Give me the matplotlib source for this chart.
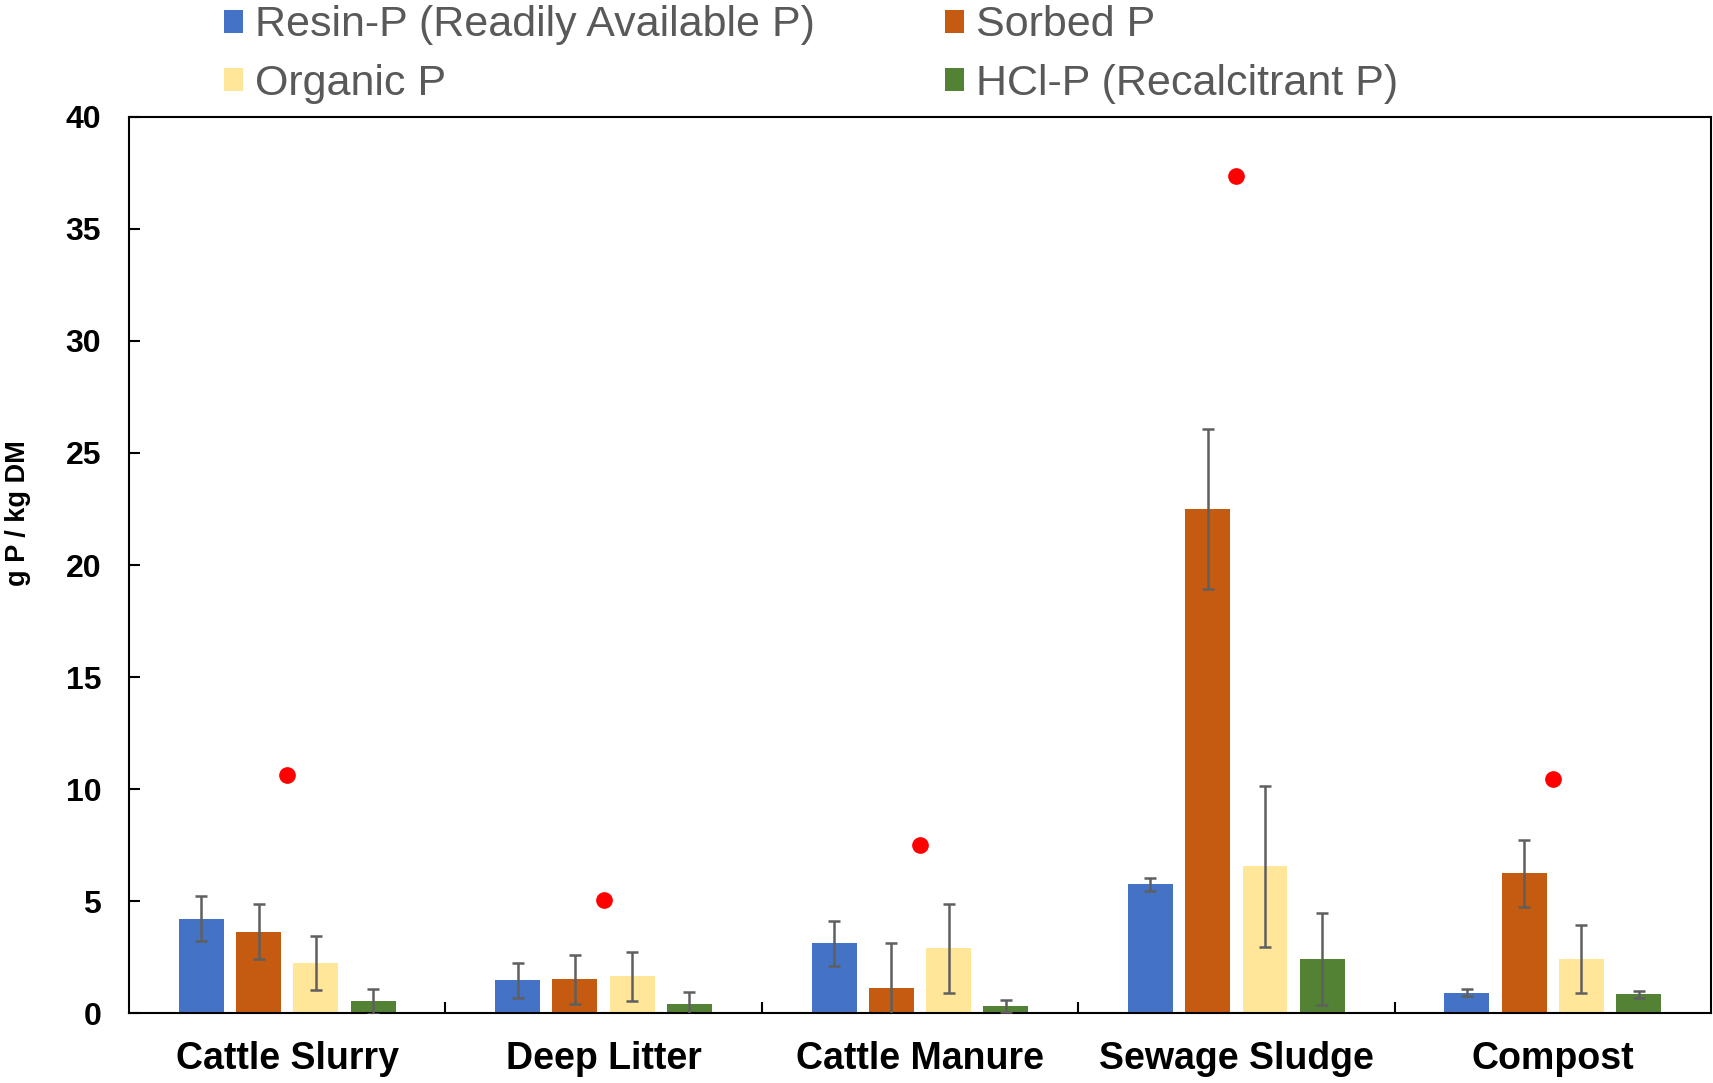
import matplotlib
matplotlib.use("Agg")
import matplotlib.pyplot as plt
import numpy as np
from matplotlib.patches import Patch

plt.rcParams['font.family'] = ['Liberation Sans', 'DejaVu Sans']

categories = ['Cattle Slurry', 'Deep Litter', 'Cattle Manure', 'Sewage Sludge', 'Compost']
series_names = ['Resin-P (Readily Available P)', 'Sorbed P', 'Organic P', 'HCl-P (Recalcitrant P)']
resin = [4.21, 1.46, 3.11, 5.75, 0.91]
resin_err = [1.00, 0.79, 1.01, 0.30, 0.16]
sorbed = [3.63, 1.50, 1.13, 22.52, 6.24]
sorbed_err = [1.22, 1.11, 2.00, 3.57, 1.50]
organic = [2.22, 1.64, 2.89, 6.55, 2.41]
organic_err = [1.21, 1.10, 1.98, 3.60, 1.51]
hcl = [0.52, 0.40, 0.31, 2.43, 0.83]
hcl_err = [0.55, 0.52, 0.25, 2.05, 0.17]
total_p = [10.63, 5.04, 7.52, 37.36, 10.46]
yticks = [0, 5, 10, 15, 20, 25, 30, 35, 40]

colors = ['#4472C4', '#C55A11', '#FFE699', '#548235']
values = [resin, sorbed, organic, hcl]
errors = [resin_err, sorbed_err, organic_err, hcl_err]

fig = plt.figure(figsize=(17.13, 10.83), dpi=100)
ax = fig.add_axes([0.0753, 0.0646, 0.9235, 0.8274])

x = np.arange(len(categories))
pitch = 0.181
width = 0.142
offsets = [-1.5, -0.5, 0.5, 1.5]
for vals, errs, c, off in zip(values, errors, colors, offsets):
    ax.bar(x + off * pitch, vals, width=width, color=c, zorder=2)
    ax.errorbar(x + off * pitch, vals, yerr=errs, fmt='none', ecolor='#5f5f5f',
                elinewidth=1.8, capsize=4.3, capthick=1.8, zorder=3)

ax.plot(x, total_p, 'o', color='#FF0000', markersize=11, zorder=4, linestyle='none')

ax.set_xlim(-0.5, len(categories) - 0.5)
ax.set_ylim(0, 40)
ax.set_yticks(yticks)
ax.set_yticklabels([str(t) for t in yticks], fontsize=23, fontweight='bold')
ax.set_xticks(x)
ax.set_xticklabels(categories, fontsize=27, fontweight='bold')
ax.tick_params(axis='x', which='major', length=0, pad=20)
ax.set_xticks(np.arange(0.5, len(categories) - 0.5, 1), minor=True)
ax.tick_params(axis='x', which='minor', direction='in', length=8, width=1.5)
ax.tick_params(axis='y', which='major', direction='in', length=8, width=1.5, pad=20)
for s in ax.spines.values():
    s.set_linewidth(1.5)
    s.set_color('black')

ax.set_ylabel('g P / kg DM', fontsize=19.5, fontweight='bold')
ax.yaxis.set_label_coords(-0.0622, 0.558)

handles = [Patch(facecolor=colors[0]), Patch(facecolor=colors[2]),
           Patch(facecolor=colors[1]), Patch(facecolor=colors[3])]
labels = [series_names[0], series_names[2], series_names[1], series_names[3]]
leg = fig.legend(handles, labels, ncol=2, loc='upper left', bbox_to_anchor=(0.1308, 0.995),
                 frameon=False, fontsize=31, handlelength=0.45, handleheight=0.45,
                 handletextpad=0.28, columnspacing=3.0, labelspacing=0.43,
                 borderpad=0, borderaxespad=0)
for t in leg.get_texts():
    t.set_color('#595959')

fig.savefig('out.png', dpi=100)
